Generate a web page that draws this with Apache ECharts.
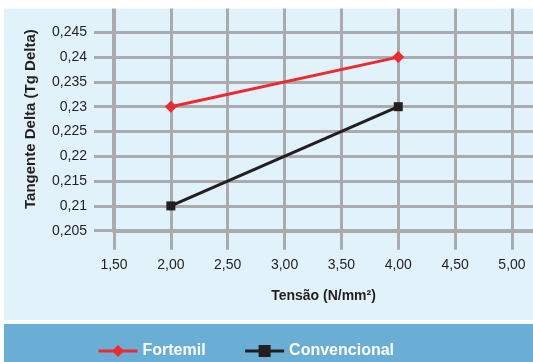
<!DOCTYPE html>
<html>
<head>
<meta charset="utf-8">
<script src="https://cdn.jsdelivr.net/npm/echarts@6/dist/echarts.min.js"></script>
<style>
  html, body { margin: 0; padding: 0; background: #fff; }
  #chart { width: 533px; height: 362px; }
</style>
</head>
<body>
<div id="chart"></div>
<script>
const xTicks = [1.5, 2.0, 2.5, 3.0, 3.5, 4.0, 4.5, 5.0]
const yTicks = [0.205, 0.21, 0.215, 0.22, 0.225, 0.23, 0.235, 0.24, 0.245]
const tensao = [2.0, 4.0]
const fortemil = [0.23, 0.24]
const convencional = [0.21, 0.23]

const GRID_GRAY = '#a9abae'
const FONT = 'Liberation Sans'

const pairs = (xs, ys) => xs.map((x, i) => [x, ys[i]])

const chart = echarts.init(document.getElementById('chart'))

chart.setOption({
  backgroundColor: '#ffffff',
  animation: false,
  graphic: [
    { type: 'rect', z: -10, shape: { x: 4, y: 8, width: 529, height: 312 }, style: { fill: '#e1f2fa' } },
    { type: 'rect', z: -10, shape: { x: 4, y: 324, width: 529, height: 38 }, style: { fill: '#6aaed6' } },
    // hides the grid line drawn at the axis maximum, above the panel
    { type: 'rect', z: 100, shape: { x: 0, y: 0, width: 533, height: 8.5 }, style: { fill: '#ffffff' } }
  ],
  grid: { left: 114, right: 0, top: 7.5, bottom: 131.3 },
  xAxis: {
    type: 'value',
    min: 1.5,
    max: 5.185,
    name: 'Tensão (N/mm²)',
    nameLocation: 'middle',
    nameGap: 58,
    nameTextStyle: { fontFamily: FONT, fontWeight: 'bold', fontSize: 14, color: '#231f20' },
    axisLine: { show: true, onZero: false, lineStyle: { color: GRID_GRAY, width: 4 } },
    axisTick: { show: true, customValues: xTicks, length: 19, lineStyle: { color: GRID_GRAY, width: 3 } },
    axisLabel: {
      customValues: xTicks,
      margin: 27,
      fontFamily: FONT, fontSize: 14, color: '#231f20',
      formatter: v => v.toFixed(2).replace('.', ',')
    },
    splitLine: { show: true, lineStyle: { color: GRID_GRAY, width: 3 } }
  },
  yAxis: {
    type: 'value',
    min: 0.205,
    max: 0.25,
    name: 'Tangente Delta (Tg Delta)',
    nameLocation: 'middle',
    nameGap: 76,
    nameRotate: 90,
    nameTextStyle: { fontFamily: FONT, fontWeight: 'bold', fontSize: 15, color: '#231f20' },
    axisLine: { show: true, onZero: false, lineStyle: { color: GRID_GRAY, width: 4 } },
    axisTick: { show: true, customValues: yTicks, length: 20, lineStyle: { color: GRID_GRAY, width: 3 } },
    axisLabel: {
      customValues: yTicks,
      margin: 27,
      fontFamily: FONT, fontSize: 14, color: '#231f20',
      formatter: v => String(v).replace('.', ',')
    },
    splitLine: { show: true, lineStyle: { color: GRID_GRAY, width: 3 } }
  },
  legend: {
    bottom: -2,
    left: 92,
    itemGap: 38,
    itemWidth: 39,
    itemHeight: 15,
    lineStyle: { width: 3 },
    textStyle: { fontFamily: FONT, fontWeight: 'bold', fontSize: 16, color: '#ffffff' },
    data: ['Fortemil', 'Convencional']
  },
  series: [
    {
      name: 'Fortemil',
      type: 'line',
      data: pairs(tensao, fortemil),
      symbol: 'diamond',
      symbolSize: 12,
      lineStyle: { color: '#ee2a2f', width: 3 },
      itemStyle: { color: '#ee2a2f' }
    },
    {
      name: 'Convencional',
      type: 'line',
      data: pairs(tensao, convencional),
      symbol: 'rect',
      symbolSize: 9,
      lineStyle: { color: '#231f20', width: 3 },
      itemStyle: { color: '#231f20' }
    }
  ]
})
</script>
</body>
</html>
